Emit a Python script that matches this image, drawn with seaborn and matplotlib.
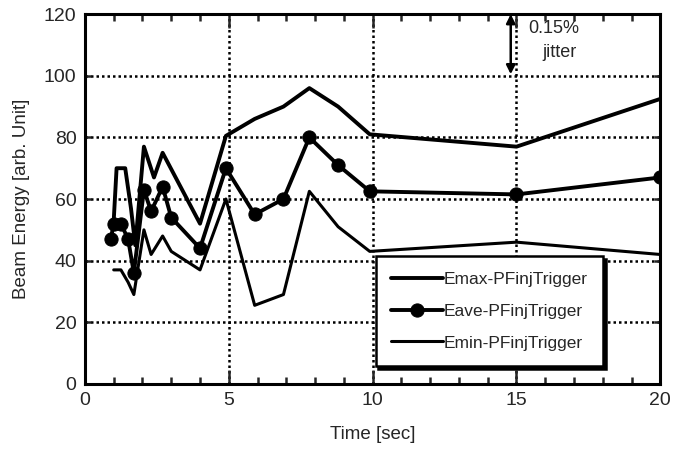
import matplotlib
matplotlib.use("Agg")
import matplotlib.pyplot as plt
import seaborn as sns
import pandas as pd
from matplotlib.ticker import MultipleLocator

sns.set_theme(style="ticks")
plt.rcParams['font.family'] = ['Liberation Sans', 'DejaVu Sans']

# Data
t_max = [1.0, 1.1, 1.4, 1.6, 1.75, 2.05, 2.4, 2.7, 4.0, 4.9, 5.9, 6.9, 7.8, 8.8, 9.9, 15.0, 20.0]
e_max = [53, 70, 70, 57, 45, 77, 67, 75, 52, 80.5, 86, 90, 96, 90, 81, 77, 92.5]

t_ave = [0.9, 1.0, 1.25, 1.5, 1.7, 2.05, 2.3, 2.7, 3.0, 4.0, 4.9, 5.9, 6.9, 7.8, 8.8, 9.9, 15.0, 20.0]
e_ave = [47, 52, 52, 47, 36, 63, 56, 64, 54, 44, 70, 55, 60, 80, 71, 62.5, 61.5, 67]

t_min = [1.0, 1.25, 1.5, 1.7, 2.05, 2.3, 2.7, 3.0, 4.0, 4.9, 5.9, 6.9, 7.8, 8.8, 9.9, 15.0, 20.0]
e_min = [37, 37, 33, 29, 50, 42, 48, 43, 37, 60, 25.5, 29, 62.5, 51, 43, 46, 42]

labels = ["Emax-PFinjTrigger", "Eave-PFinjTrigger", "Emin-PFinjTrigger"]
x_ticks = [0, 5, 10, 15, 20]
y_ticks = [0, 20, 40, 60, 80, 100, 120]

df_max = pd.DataFrame({"t": t_max, "e": e_max})
df_ave = pd.DataFrame({"t": t_ave, "e": e_ave})
df_min = pd.DataFrame({"t": t_min, "e": e_min})

fig = plt.figure(figsize=(6.85, 4.57), dpi=100)
ax = fig.add_axes([0.124, 0.160, 0.840, 0.809])

sns.lineplot(data=df_max, x="t", y="e", ax=ax, sort=False, color="black",
             linewidth=2.8, label=labels[0])
sns.lineplot(data=df_ave, x="t", y="e", ax=ax, sort=False, color="black",
             linewidth=2.8, marker="o", markersize=9.5, markeredgecolor="black",
             label=labels[1])
sns.lineplot(data=df_min, x="t", y="e", ax=ax, sort=False, color="black",
             linewidth=2.2, label=labels[2])

ax.set_xlim(0, 20)
ax.set_ylim(0, 120)
ax.set_xticks(x_ticks)
ax.set_yticks(y_ticks)
ax.xaxis.set_minor_locator(MultipleLocator(1))
ax.tick_params(axis="both", which="major", direction="in", length=10, width=1.8,
               top=True, right=True, labelsize=14, pad=6)
ax.tick_params(axis="both", which="minor", direction="in", length=5, width=1.8,
               top=True, right=True)
ax.tick_params(axis="y", which="major", length=4)
ax.grid(True, which="major", linestyle=(0, (1, 1.2)), color="black", linewidth=1.8)
for s in ax.spines.values():
    s.set_linewidth(2.2)
    s.set_color("black")

ax.set_xlabel("Time [sec]", fontsize=13.5, labelpad=12)
ax.set_ylabel("Beam Energy [arb. Unit]", fontsize=13.5, labelpad=10)

leg = ax.legend(loc="lower left", bbox_to_anchor=(0.505, 0.048), fontsize=12.5,
                frameon=True, fancybox=False, edgecolor="black", framealpha=1,
                handlelength=3.0, handletextpad=0.0, borderpad=0.9, labelspacing=0.95,
                borderaxespad=0.0,
                shadow={"color": "black", "alpha": 1})
leg.get_frame().set_linewidth(1.8)

ax.annotate("", xy=(14.8, 100.5), xytext=(14.8, 120),
            arrowprops=dict(arrowstyle="<|-|>", color="black", lw=1.8,
                            mutation_scale=13, shrinkA=0, shrinkB=0))
ax.text(16.3, 115.5, "0.15%", fontsize=13, ha="center", va="center")
ax.text(16.5, 107.5, "jitter", fontsize=13, ha="center", va="center")

fig.savefig("out.png", dpi=100)
